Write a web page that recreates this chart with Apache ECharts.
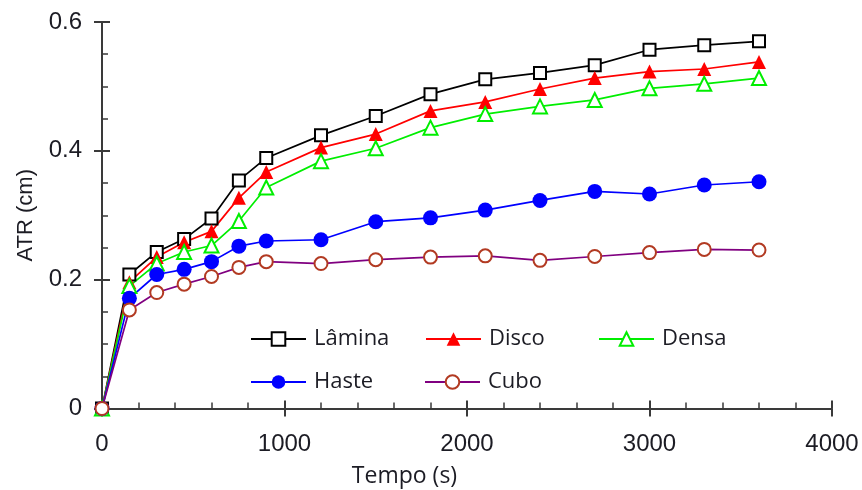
<!DOCTYPE html>
<html>
<head>
<meta charset="utf-8">
<script src="https://cdn.jsdelivr.net/npm/echarts@6/dist/echarts.min.js"></script>
<style>
  html, body { margin: 0; padding: 0; background: #fff; }
  #chart { width: 862px; height: 490px; }
</style>
</head>
<body>
<div id="chart"></div>
<script>
// Elapsed time (s) at each reading
const tempo = [0, 150, 300, 450, 600, 750, 900, 1200, 1500, 1800, 2100, 2400, 2700, 3000, 3300, 3600];

// ATR (cm) per specimen shape
const lamina = [0, 0.208, 0.243, 0.263, 0.295, 0.354, 0.389, 0.424, 0.454, 0.488, 0.511, 0.521, 0.533, 0.557, 0.564, 0.570];
const disco  = [0, 0.196, 0.235, 0.258, 0.275, 0.327, 0.367, 0.405, 0.426, 0.462, 0.476, 0.496, 0.513, 0.523, 0.527, 0.538];
const densa  = [0, 0.190, 0.225, 0.243, 0.253, 0.291, 0.343, 0.384, 0.404, 0.436, 0.457, 0.469, 0.479, 0.497, 0.504, 0.513];
const haste  = [0, 0.171, 0.208, 0.216, 0.228, 0.252, 0.260, 0.262, 0.290, 0.296, 0.308, 0.323, 0.337, 0.333, 0.347, 0.352];
const cubo   = [0, 0.153, 0.180, 0.193, 0.205, 0.219, 0.228, 0.225, 0.231, 0.235, 0.237, 0.230, 0.236, 0.242, 0.247, 0.246];

const xTicks = [0, 1000, 2000, 3000, 4000];
const yTicks = [0, 0.2, 0.4, 0.6];

const axisColor = '#3a3a3a';
const textColor = '#1c1c24';
const labelFont = '"Liberation Sans", Arial, sans-serif';
const legendFont = '"Open Sans", "Noto Sans", sans-serif';

function pairs(ys) {
  return tempo.map((t, i) => [t, ys[i]]);
}

function lineSeries(name, ys, symbol, size, lineColor, markColor, borderW) {
  return {
    name: name,
    type: 'line',
    data: pairs(ys),
    symbol: symbol,
    symbolSize: size,
    showAllSymbol: true,
    lineStyle: { color: lineColor, width: 1.7 },
    itemStyle: { color: markColor, borderWidth: borderW },
    emphasis: { disabled: true },
    animation: false
  };
}

function legendAt(name, left, top) {
  return {
    data: [name],
    left: left,
    top: top,
    orient: 'horizontal',
    itemWidth: 55,
    itemHeight: 17,
    selectedMode: false,
    padding: 0,
    textStyle: { fontFamily: legendFont, fontSize: 22, color: textColor, padding: [0, 0, 0, 3] }
  };
}

const chart = echarts.init(document.getElementById('chart'), null, { renderer: 'canvas' });

const option = {
  backgroundColor: '#fff',
  animation: false,
  grid: { left: 102, right: 30, top: 22, bottom: 81.5, containLabel: false, outerBoundsMode: 'none' },
  legend: [
    legendAt('Lâmina', 250, 328),
    legendAt('Disco', 425, 328),
    legendAt('Densa', 598, 328),
    legendAt('Haste', 250, 371),
    legendAt('Cubo', 424, 371)
  ],
  xAxis: [
    {
      type: 'value',
      min: xTicks[0],
      max: xTicks[xTicks.length - 1],
      interval: xTicks[1] - xTicks[0],
      name: 'Tempo (s)',
      nameLocation: 'middle',
      nameGap: 56,
      nameTextStyle: { fontFamily: legendFont, fontSize: 23, color: textColor, padding: [0, 125, 0, 0] },
      axisLine: { show: true, lineStyle: { color: axisColor, width: 2 } },
      axisTick: { show: true, inside: true, length: 8, lineStyle: { color: axisColor, width: 2 } },
      minorTick: { show: true, splitNumber: 5, length: 6, lineStyle: { color: axisColor, width: 1.5 } },
      axisLabel: {
        margin: 24,
        fontFamily: labelFont,
        fontSize: 24,
        color: textColor,
        formatter: v => String(v)
      },
      splitLine: { show: false }
    },
    {
      type: 'value',
      position: 'bottom',
      offset: 0,
      min: xTicks[0],
      max: xTicks[xTicks.length - 1],
      interval: xTicks[1] - xTicks[0],
      axisLine: { show: false },
      axisTick: { show: true, inside: false, length: 8, lineStyle: { color: axisColor, width: 2 } },
      axisLabel: { show: false },
      splitLine: { show: false }
    }
  ],
  yAxis: [
    {
      type: 'value',
      min: yTicks[0],
      max: yTicks[yTicks.length - 1],
      interval: yTicks[1] - yTicks[0],
      name: 'ATR (cm)',
      nameLocation: 'middle',
      nameGap: 65,
      nameTextStyle: { fontFamily: labelFont, fontSize: 22, color: textColor },
      axisLine: { show: true, lineStyle: { color: axisColor, width: 2 } },
      axisTick: { show: true, inside: true, length: 8, lineStyle: { color: axisColor, width: 2 } },
      minorTick: { show: true, splitNumber: 4, length: 6, lineStyle: { color: axisColor, width: 1.5 } },
      axisLabel: {
        margin: 20,
        fontFamily: labelFont,
        fontSize: 24,
        color: textColor,
        formatter: v => (v === 0 ? '0' : v.toFixed(1))
      },
      splitLine: { show: false }
    },
    {
      type: 'value',
      position: 'left',
      offset: 0,
      min: yTicks[0],
      max: yTicks[yTicks.length - 1],
      interval: yTicks[1] - yTicks[0],
      axisLine: { show: false },
      axisTick: { show: true, inside: false, length: 8, lineStyle: { color: axisColor, width: 2 } },
      axisLabel: { show: false },
      splitLine: { show: false }
    }
  ],
  series: [
    lineSeries('Lâmina', lamina, 'emptyRect', 12, '#000000', '#000000', 1.6),
    lineSeries('Disco', disco, 'triangle', 14, '#ff0000', '#ff0000', 0),
    lineSeries('Densa', densa, 'emptyTriangle', 14, '#00ee00', '#00ee00', 1.8),
    lineSeries('Haste', haste, 'circle', 15, '#0000ff', '#0000ff', 0),
    lineSeries('Cubo', cubo, 'emptyCircle', 13, '#800080', '#b23a22', 1.6)
  ]
};

chart.setOption(option);
</script>
</body>
</html>
